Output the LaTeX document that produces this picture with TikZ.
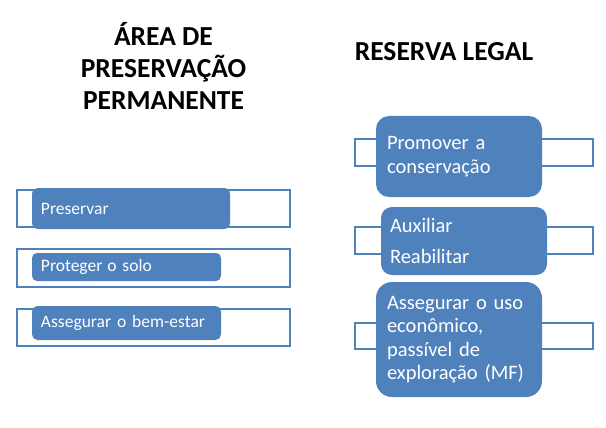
\documentclass[tikz,border=0pt]{standalone}
\usepackage{fontspec}
\setmainfont{Carlito}
\definecolor{boxblue}{HTML}{4F81BD}
\begin{document}
\begin{tikzpicture}[x=1pt,y=-1pt,
  outline/.style={draw=boxblue, line width=2pt, inner sep=0pt},
  bluebox/.style={fill=boxblue, text=white, align=left, inner ysep=0pt},
  lefttext/.style={font=\fontsize{17.5}{21}\selectfont, inner xsep=9pt},
  righttext/.style={font=\fontsize{20.5}{23.5}\selectfont, inner xsep=11pt},
  title/.style={font=\fontsize{27.5}{32}\selectfont\bfseries, align=center, inner sep=0pt}]
\useasboundingbox (0,0) rectangle (606,428);

% titles
\node[title, anchor=base] (t1) at (163.5,110) {ÁREA DE\\PRESERVAÇÃO\\PERMANENTE};
\node[title, anchor=base] (t2) at (444,61) {RESERVA LEGAL};

% left outlines
\node[outline, minimum width=273pt, minimum height=37pt] (o1) at (153.5,208.5) {};
\node[outline, minimum width=273pt, minimum height=38pt] (o2) at (153.5,268) {};
\node[outline, minimum width=273pt, minimum height=37pt] (o3) at (153.5,327.5) {};

% left boxes
\node[bluebox, lefttext, rounded corners=6pt, minimum width=198pt, minimum height=41pt, text width=180pt] (b1) at (131,208.5) {Preservar};
\node[bluebox, lefttext, rounded corners=5pt, minimum width=189pt, minimum height=28pt, text width=171pt] (b2) at (126.5,267) {Proteger\hspace{5pt}o solo};
\node[bluebox, lefttext, rounded corners=5.5pt, minimum width=189pt, minimum height=34pt, text width=171pt] (b3) at (126.5,323) {Assegurar\hspace{6pt}o bem-estar};

% right outlines
\node[outline, minimum width=238pt, minimum height=27pt] (o4) at (474,152.5) {};
\node[outline, minimum width=238pt, minimum height=27pt] (o5) at (474,240.5) {};
\node[outline, minimum width=238pt, minimum height=26pt] (o6) at (474,336) {};

% right boxes
\node[bluebox, righttext, rounded corners=13pt, minimum width=166pt, minimum height=81pt, text width=144pt] (b4) at (459,156.5) {Promover a\\conservação};
\node[bluebox, righttext, rounded corners=11pt, minimum width=166pt, minimum height=68pt, text width=148pt, inner xsep=9pt] (b5) at (464,241) {Auxiliar\\[7.5pt]Reabilitar};
\node[bluebox, righttext, rounded corners=16pt, minimum width=166pt, minimum height=115pt, text width=144pt] (b6) at (459,339.5) {Assegurar o uso\\econômico,\\passível de\\exploração (MF)};
\end{tikzpicture}
\end{document}
